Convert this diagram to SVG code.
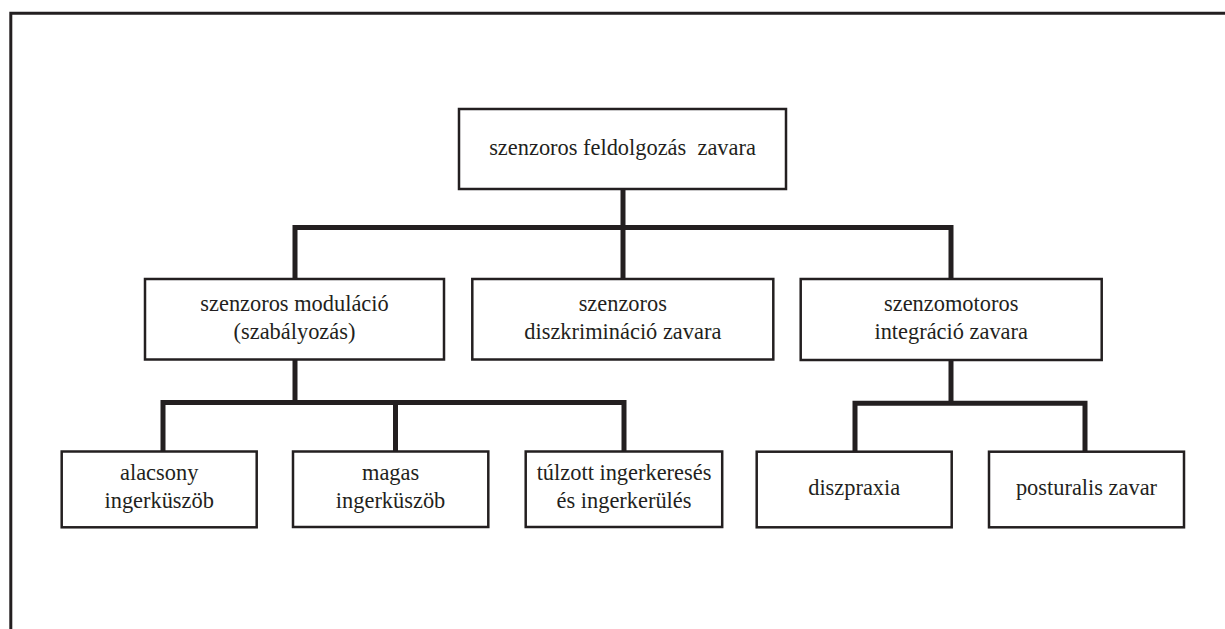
<svg xmlns="http://www.w3.org/2000/svg" width="1225" height="629" viewBox="0 0 1225 629" font-family="Liberation Serif, serif">
<style>
.box{fill:#fff;stroke:#231f20;stroke-width:2.5}
.t{font-size:22.4px;fill:#231f20;text-anchor:middle}
.c{fill:none;stroke:#231f20;stroke-width:5;stroke-linejoin:miter;stroke-linecap:butt}
.frame{fill:none;stroke:#231f20;stroke-width:3}
</style>
<rect width="1225" height="629" fill="#fff"/>
<path class="frame" d="M10.8,629 V13.2 H1225"/>
<g id="connectors">
<path class="c" d="M623,189 V279"/>
<path class="c" d="M295,279 V227.5 H951 V279"/>
<path class="c" d="M295,359 V402.5"/>
<path class="c" d="M163,451 V402.5 H624 V451"/>
<path class="c" d="M395.5,402.5 V451"/>
<path class="c" d="M951,360 V403.3"/>
<path class="c" d="M855,451 V403.3 H1085 V451"/>
</g>
<g id="root">
<rect class="box" x="459" y="109" width="327" height="80"/>
<text class="t" x="622.5" y="155" xml:space="preserve">szenzoros feldolgozás  zavara</text>
</g>
<g id="modulacio">
<rect class="box" x="145" y="279" width="299" height="80.5"/>
<text class="t" x="294.5" y="311">szenzoros moduláció</text>
<text class="t" x="294.5" y="338.5">(szabályozás)</text>
</g>
<g id="diszkriminacio">
<rect class="box" x="472.3" y="279" width="301" height="80.5"/>
<text class="t" x="622.8" y="311">szenzoros</text>
<text class="t" x="622.8" y="339">diszkrimináció zavara</text>
</g>
<g id="integracio">
<rect class="box" x="800.7" y="279" width="301" height="81"/>
<text class="t" x="951.2" y="311">szenzomotoros</text>
<text class="t" x="951.2" y="339">integráció zavara</text>
</g>
<g id="alacsony">
<rect class="box" x="61.7" y="451.5" width="195" height="75.8"/>
<text class="t" x="159.2" y="480">alacsony</text>
<text class="t" x="159.2" y="508.3">ingerküszöb</text>
</g>
<g id="magas">
<rect class="box" x="293" y="451.5" width="195.3" height="75.5"/>
<text class="t" x="390.6" y="480">magas</text>
<text class="t" x="390.6" y="508.3">ingerküszöb</text>
</g>
<g id="tulzott">
<rect class="box" x="525.7" y="451.5" width="196.5" height="75.5"/>
<text class="t" x="624" y="480">túlzott ingerkeresés</text>
<text class="t" x="624" y="508.3">és ingerkerülés</text>
</g>
<g id="diszpraxia">
<rect class="box" x="756.7" y="451.7" width="195" height="75.6"/>
<text class="t" x="854.2" y="495">diszpraxia</text>
</g>
<g id="posturalis">
<rect class="box" x="989" y="451.7" width="195" height="75.6"/>
<text class="t" x="1086.5" y="495">posturalis zavar</text>
</g>
</svg>
